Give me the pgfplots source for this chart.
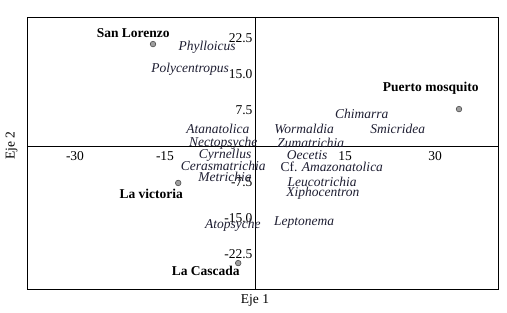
\documentclass[border=0pt]{standalone}
\usepackage{pgfplots}
\pgfplotsset{compat=1.18}
\usepackage{fontspec}
\setmainfont{Liberation Serif}
\definecolor{sp}{RGB}{30,30,50}
\begin{document}
\begin{tikzpicture}[font=\fontsize{13.5}{16}\selectfont]
\useasboundingbox (0,0) rectangle (507pt,313pt);
\begin{axis}[
  at={(27pt,24pt)}, anchor=south west,
  scale only axis, width=471pt, height=272pt,
  xmin=-38, xmax=40.5, ymin=-29.8, ymax=26.9,
  axis lines=middle, axis line style={-, black},
  major tick length=0pt,
  xtick={-30,-15,15,30}, ytick={-22.5,-15,-7.5,7.5,15,22.5},
  yticklabels={-22.5,-15.0,-7.5,7.5,15.0,22.5},
  /pgf/number format/assume math mode=true,
  tick label style={font=\fontsize{13.5}{16}\selectfont},
  xticklabel style={yshift=-2pt},
  yticklabel style={xshift=1pt},
  xlabel={Eje 1}, ylabel={Eje 2},
  x label style={at={(axis description cs:0.484,0)}, anchor=north, yshift=-2pt},
  y label style={at={(axis description cs:0,0.526)}, anchor=south, rotate=90, yshift=6pt},
  clip=false,
]
\draw[black] (rel axis cs:0,0) rectangle (rel axis cs:1,1);
% sites
\addplot[only marks, mark=*, mark size=2.8pt, mark options={fill=gray!75, draw=gray!60!black, line width=0.6pt}]
  coordinates {(-17.0,21.25) (34.0,7.7) (-12.8,-7.7) (-2.8,-24.4)};
% site labels
\addplot[only marks, mark=none, point meta=explicit symbolic,
  nodes near coords, nodes near coords align={center},
  every node near coord/.append style={font=\fontsize{13.5}{16}\selectfont\bfseries, anchor=center, inner sep=0pt}]
  coordinates {(-20.3,23.5) [San Lorenzo] (29.3,12.1) [Puerto mosquito] (-17.3,-10.0) [La victoria] (-8.2,-26.0) [La Cascada]};
% species labels
\addplot[only marks, mark=none, point meta=explicit symbolic,
  nodes near coords, nodes near coords align={center},
  every node near coord/.append style={font=\fontsize{13.5}{16}\selectfont\itshape, text=sp, anchor=center, inner sep=0pt}]
  coordinates {
  (-8.0,20.6) [Phylloicus]
  (-10.8,16.0) [Polycentropus]
  (-6.2,3.5) [Atanatolica]
  (-5.3,0.6) [Nectopsyche]
  (-5.0,-1.9) [Cyrnellus]
  (-5.3,-4.2) [Cerasmatrichia]
  (-5.0,-6.5) [Metrichia]
  (-3.7,-16.5) [Atopsyche]
  (17.8,6.7) [Chimarra]
  (8.2,3.5) [Wormaldia]
  (23.8,3.5) [Smicridea]
  (9.3,0.6) [Zumatrichia]
  (8.7,-1.9) [Oecetis]
  (12.8,-4.4) [{\upshape Cf.} Amazonatolica]
  (11.2,-7.5) [Leucotrichia]
  (11.3,-9.8) [Xiphocentron]
  (8.2,-16.0) [Leptonema]
  };
\end{axis}
\end{tikzpicture}
\end{document}
